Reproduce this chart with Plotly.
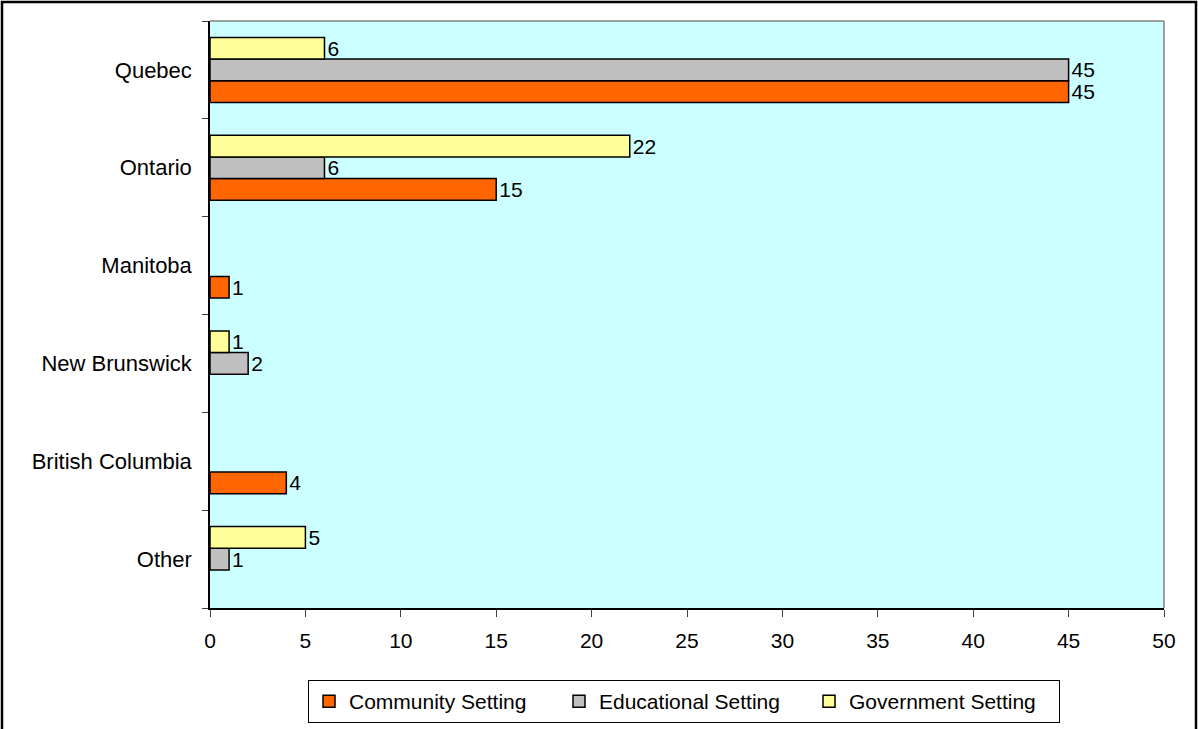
import plotly.graph_objects as go

# Provinces listed bottom-to-top so Quebec ends up at the top of the axis
provinces = ["Other", "British Columbia", "New Brunswick", "Manitoba", "Ontario", "Quebec"]
community = [None, 4, None, 1, 15, 45]
educational = [1, None, 2, None, 6, 45]
government = [5, None, 1, None, 22, 6]

series = [
    ("Community Setting", community, "#FF6600"),
    ("Educational Setting", educational, "#C0C0C0"),
    ("Government Setting", government, "#FFFF99"),
]

W, H = 1198, 729
L, R, T, B = 210, 34, 21, 121
pw, ph = W - L - R, H - T - B

fig = go.Figure()
for name, vals, color in series:
    fig.add_trace(go.Bar(
        name=name,
        y=provinces,
        x=vals,
        orientation="h",
        marker=dict(color=color, line=dict(color="black", width=1.5)),
        text=[("" if v is None else str(v)) for v in vals],
        textposition="outside",
        constraintext="none",
        textfont=dict(family="Arial", size=21, color="black"),
        cliponaxis=False,
    ))

fig.update_layout(
    width=W, height=H,
    margin=dict(l=L, r=R, t=T, b=B, autoexpand=False),
    paper_bgcolor="white",
    plot_bgcolor="#CCFFFF",
    barmode="group",
    bargap=0.335,
    bargroupgap=0,
    font=dict(family="Arial", size=21, color="black"),
    showlegend=True,
    legend=dict(
        orientation="h",
        x=(308 - L) / pw, xanchor="left",
        y=-(680 - (T + ph)) / ph, yanchor="top",
        bordercolor="black", borderwidth=1,
        font=dict(family="Arial", size=21, color="black"),
        traceorder="normal",
        itemwidth=30,
        entrywidth=205,
        entrywidthmode="pixels",
    ),
    xaxis=dict(
        range=[0, 50], dtick=5, showgrid=False, zeroline=False,
        showline=True, linecolor="black", linewidth=1.5,
        ticks="outside", ticklen=7, tickcolor="#404040",
        ticklabelstandoff=6, automargin=False,
        tickfont=dict(family="Arial", size=21),
    ),
    yaxis=dict(
        categoryorder="array", categoryarray=provinces,
        showgrid=False, zeroline=False,
        showline=True, linecolor="black", linewidth=1.5,
        ticks="outside", ticklen=6, tickcolor="#404040",
        tickson="boundaries",
        ticklabelstandoff=12, automargin=False,
        tickfont=dict(family="Arial", size=22),
    ),
)

# Gray frame on the top and right edges of the plot area
fig.add_shape(type="line", xref="paper", yref="paper", x0=0, x1=1, y0=1, y1=1,
              line=dict(color="#808080", width=1.5))
fig.add_shape(type="line", xref="paper", yref="paper", x0=1, x1=1, y0=0, y1=1,
              line=dict(color="#808080", width=1.5))

# Black border around the whole chart
fig.add_shape(type="rect", xref="paper", yref="paper",
              x0=(2 - L) / pw, x1=(W - 2 - L) / pw,
              y0=-(H + 4 - T - ph) / ph, y1=1 + (T - 2) / ph,
              line=dict(color="black", width=2.5), layer="below")

fig.write_html("out.html")
